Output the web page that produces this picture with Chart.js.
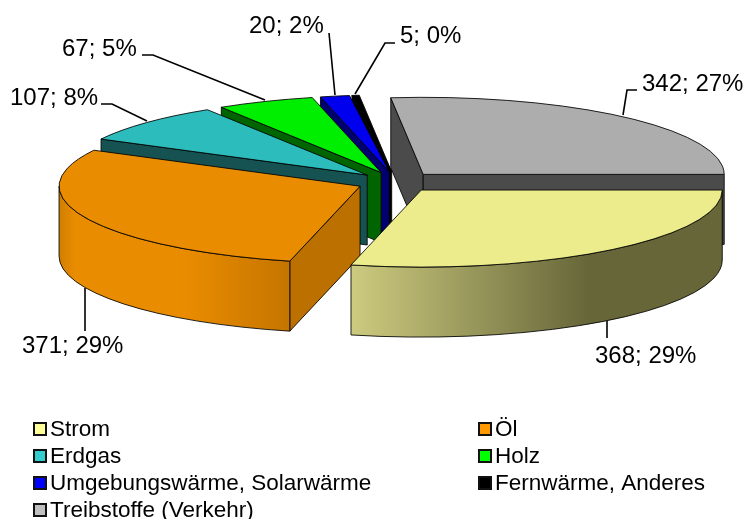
<!DOCTYPE html>
<html>
<head>
<meta charset="utf-8">
<title>Energieverbrauch</title>
<script src="https://cdn.jsdelivr.net/npm/chart.js@4"></script>
<style>
    html, body { margin: 0; padding: 0; background: #fff; }
    canvas { display: block; }
</style>
</head>
<body>
<canvas id="pieChart" width="745" height="519"></canvas>
<script>
// --- Data ---
const categories = ['Strom', 'Öl', 'Erdgas', 'Holz', 'Umgebungswärme, Solarwärme', 'Fernwärme, Anderes', 'Treibstoffe (Verkehr)'];
const values = [368, 371, 107, 67, 20, 5, 342];

// --- Colours ---
const topColors = ['#ecec8c', '#ea8c00', '#2dbcbc', '#00ee00', '#0000ee', '#000000', '#adadad'];
const faceColors = ['#666639', '#bb7000', '#175252', '#006400', '#00006e', '#000000', '#4b4b4b'];
const legendColors = ['#ffff99', '#ff9900', '#33cccc', '#00ff00', '#0000ff', '#000000', '#c0c0c0'];
// shading of the curved rim, left to right; only the two front slices show it
const rimStops = {
    0: [[0, '#cdcb7f'], [0.64, '#666639'], [1, '#666639']],
    1: [[0, '#cf7f00'], [0.07, '#ea8c00'], [0.54, '#ea8c00'], [1, '#c57500']]
};

// --- Layout ---
const squash = 0.256;    // flattening of the pie
const depth = 70;        // height of the pie in px
const explode = 40;      // how far each slice is pulled out
const fontFamily = "'Liberation Sans', Arial, sans-serif";
// label anchor (left, baseline) and leader line for each slice
const labelSpots = [
    { x: 595, y: 363, line: [[607, 321], [607, 338]] },
    { x: 22, y: 353, line: [[85, 288], [85, 331]] },
    { x: 10, y: 105, line: [[101, 104], [112, 104], [147, 121]] },
    { x: 62, y: 56, line: [[142, 55], [153, 55], [265, 100]] },
    { x: 249, y: 33, line: [[329, 33], [335, 95]] },
    { x: 400, y: 43, line: [[395, 43], [385, 43], [355, 94]] },
    { x: 642, y: 91, line: [[637, 90], [627, 90], [623, 115]] }
];
const legendColumns = [34, 479];
const legendTop = 429;
const legendRowHeight = 27;

const total = values.reduce((a, b) => a + b, 0);
const labelFor = (i) => `${values[i]}; ${Math.round(values[i] / total * 100)}%`;

const outline = 'rgba(0, 0, 0, 0.85)';

const drawFace = (ctx, cx, cy, r, angle, color) => {
    const ex = cx + Math.cos(angle) * r;
    const ey = cy + Math.sin(angle) * r * squash;
    ctx.beginPath();
    ctx.moveTo(cx, cy);
    ctx.lineTo(ex, ey);
    ctx.lineTo(ex, ey + depth);
    ctx.lineTo(cx, cy + depth);
    ctx.closePath();
    ctx.fillStyle = color;
    ctx.fill();
    ctx.stroke();
};

const drawRim = (ctx, cx, cy, r, a0, a1, i) => {
    const x0 = cx + Math.cos(a1) * r;
    const x1 = cx + Math.cos(a0) * r;
    let fill = faceColors[i];
    if (rimStops[i]) {
        fill = ctx.createLinearGradient(x0, 0, x1, 0);
        rimStops[i].forEach(([at, color]) => fill.addColorStop(at, color));
    }
    ctx.beginPath();
    ctx.ellipse(cx, cy, r, r * squash, 0, a0, a1);
    ctx.ellipse(cx, cy + depth, r, r * squash, 0, a1, a0, true);
    ctx.closePath();
    ctx.fillStyle = fill;
    ctx.fill();
    ctx.stroke();
};

// Draws the library's arc elements as a flattened, extruded pie, back slices first
const pie3d = {
    id: 'pie3d',
    beforeDatasetsDraw(chart) {
        const ctx = chart.ctx;
        const arcs = chart.getDatasetMeta(0).data;
        ctx.save();
        ctx.lineWidth = 1;
        ctx.strokeStyle = outline;
        ctx.lineJoin = 'round';
        for (let i = arcs.length - 1; i >= 0; i--) {
            const arc = arcs[i];
            const { x, y, startAngle, endAngle, outerRadius: r } = arc;
            const mid = (startAngle + endAngle) / 2;
            const dx = Math.cos(mid) * explode;
            const dy = Math.sin(mid) * explode;
            const cx = x + dx;
            const cy = y + dy * squash;

            // cut faces turned towards the viewer
            if (Math.cos(startAngle) < 0) drawFace(ctx, cx, cy, r, startAngle, faceColors[i]);
            if (Math.cos(endAngle) > 0) drawFace(ctx, cx, cy, r, endAngle, faceColors[i]);

            // curved rim, only the front half of the ellipse
            const a0 = Math.max(startAngle, 0);
            const a1 = Math.min(endAngle, Math.PI);
            if (a1 > a0) drawRim(ctx, cx, cy, r, a0, a1, i);

            // top of the slice
            ctx.save();
            ctx.translate(x, y);
            ctx.scale(1, squash);
            ctx.translate(-x + dx, -y + dy);
            arc.draw(ctx);
            ctx.restore();

            ctx.beginPath();
            ctx.moveTo(cx, cy);
            ctx.ellipse(cx, cy, r, r * squash, 0, startAngle, endAngle);
            ctx.closePath();
            ctx.stroke();
        }
        ctx.restore();
        return false;
    },
    afterDraw(chart) {
        const ctx = chart.ctx;
        ctx.save();

        // value labels and leader lines
        ctx.font = `24px ${fontFamily}`;
        ctx.textAlign = 'left';
        ctx.textBaseline = 'alphabetic';
        ctx.fillStyle = '#000';
        ctx.strokeStyle = '#000';
        ctx.lineWidth = 1.6;
        labelSpots.forEach((spot, i) => {
            ctx.fillText(labelFor(i), spot.x, spot.y);
            ctx.beginPath();
            spot.line.forEach(([lx, ly], k) => (k ? ctx.lineTo(lx, ly) : ctx.moveTo(lx, ly)));
            ctx.stroke();
        });

        // legend, filled row by row over two columns
        ctx.font = `22.5px ${fontFamily}`;
        ctx.textBaseline = 'middle';
        categories.forEach((name, i) => {
            const lx = legendColumns[i % 2];
            const ly = legendTop + Math.floor(i / 2) * legendRowHeight;
            ctx.fillStyle = legendColors[i];
            ctx.fillRect(lx, ly - 6, 12, 12);
            ctx.strokeStyle = '#111';
            ctx.lineWidth = 2;
            ctx.strokeRect(lx, ly - 6, 12, 12);
            ctx.fillStyle = '#000';
            ctx.fillText(name, lx + 16, ly + 1);
        });
        ctx.restore();
    }
};

new Chart(document.getElementById('pieChart').getContext('2d'), {
    type: 'pie',
    data: {
        labels: categories,
        datasets: [{
            data: values,
            backgroundColor: topColors,
            borderWidth: 0,
            radius: 301
        }]
    },
    options: {
        responsive: false,
        animation: false,
        rotation: 90,
        layout: { padding: { left: 48, right: 0, top: 0, bottom: 155 } },
        plugins: {
            legend: { display: false },
            tooltip: { enabled: false }
        }
    },
    plugins: [pie3d]
});
</script>
</body>
</html>
